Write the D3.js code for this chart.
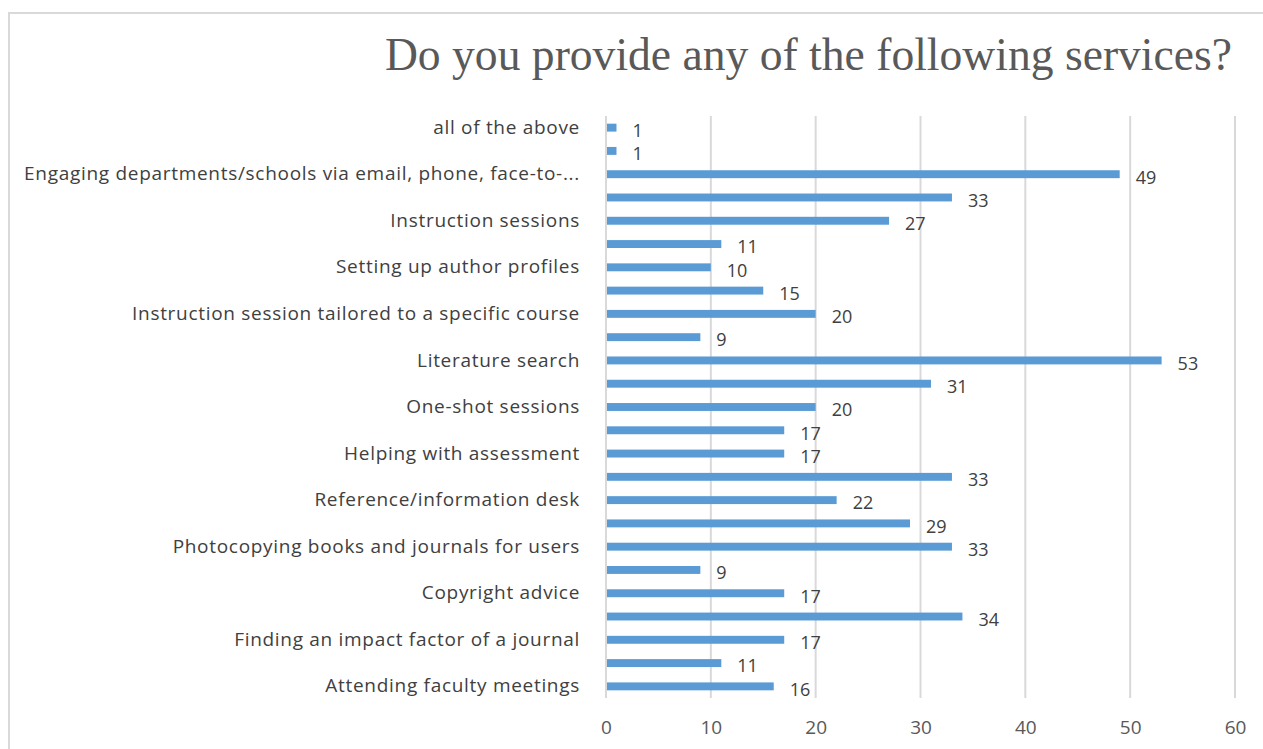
<!DOCTYPE html>
<html>
<head>
<meta charset="utf-8">
<script src="https://cdn.jsdelivr.net/npm/d3@7"></script>
<style>
  html, body { margin: 0; padding: 0; background: #ffffff; }
  svg { display: block; }
</style>
</head>
<body>
<svg id="chart" width="1263" height="749"></svg>
<script>
// Survey answers, top to bottom. Rows with an empty label are left unlabelled on the axis.
const categories = [
  "all of the above",
  "",
  "Engaging departments/schools via email, phone, face-to-...",
  "",
  "Instruction sessions",
  "",
  "Setting up author profiles",
  "",
  "Instruction session tailored to a specific course",
  "",
  "Literature search",
  "",
  "One-shot sessions",
  "",
  "Helping with assessment",
  "",
  "Reference/information desk",
  "",
  "Photocopying books and journals for users",
  "",
  "Copyright advice",
  "",
  "Finding an impact factor of a journal",
  "",
  "Attending faculty meetings"
];
const values = [1, 1, 49, 33, 27, 11, 10, 15, 20, 9, 53, 31, 20, 17, 17, 33, 22, 29, 33, 9, 17, 34, 17, 11, 16];
const xTicks = [0, 10, 20, 30, 40, 50, 60];
const title = "Do you provide any of the following services?";

const svg = d3.select("#chart");
const W = 1263, H = 749;
const plot = { left: 606, right: 1235, top: 116, bottom: 698 };
const labelFont = "'Open Sans', Lato, sans-serif";

// Outer frame (top and left edges visible)
svg.append("path")
  .attr("d", `M9,${H} L9,13 L${W},13`)
  .attr("fill", "none")
  .attr("stroke", "#d9d9d9")
  .attr("stroke-width", 2);

const x = d3.scaleLinear().domain([0, 60]).range([plot.left, plot.right]);
const y = d3.scaleBand()
  .domain(d3.range(values.length))
  .range([plot.top, plot.bottom])
  .paddingInner(0.66)
  .paddingOuter(0.33);

// Vertical gridlines
svg.append("g")
  .selectAll("line")
  .data(xTicks.filter(t => t > 0))
  .join("line")
  .attr("x1", d => x(d)).attr("x2", d => x(d))
  .attr("y1", plot.top).attr("y2", plot.bottom)
  .attr("stroke", "#d9d9d9")
  .attr("stroke-width", 2);

// Value axis labels
const xAxis = svg.append("g")
  .attr("transform", `translate(0,${plot.bottom})`)
  .call(d3.axisBottom(x).tickValues(xTicks).tickSize(0).tickPadding(23));
xAxis.select(".domain").remove();
xAxis.selectAll("text")
  .attr("font-family", labelFont)
  .attr("font-size", 19)
  .attr("fill", "#595959");

// Category axis
const yAxis = svg.append("g")
  .attr("transform", `translate(${plot.left},0)`)
  .call(d3.axisLeft(y).tickFormat(i => categories[i]).tickSize(0).tickPadding(26));
yAxis.select(".domain")
  .attr("d", `M0,${plot.top}V${plot.bottom}`)
  .attr("stroke", "#d9d9d9")
  .attr("stroke-width", 2);
yAxis.selectAll("text")
  .attr("font-family", labelFont)
  .attr("font-size", 19)
  .attr("letter-spacing", "0.7px")
  .attr("fill", "#404040");

// Bars
svg.append("g")
  .selectAll("rect")
  .data(values)
  .join("rect")
  .attr("x", x(0) + 1)
  .attr("y", (d, i) => y(i))
  .attr("width", d => x(d) - x(0) - 1)
  .attr("height", y.bandwidth())
  .attr("fill", "#5b9bd5");

// Value labels
svg.append("g")
  .selectAll("text")
  .data(values)
  .join("text")
  .attr("x", d => x(d) + 16)
  .attr("y", (d, i) => y(i) + y.bandwidth() / 2 + 3)
  .attr("dy", "0.35em")
  .attr("font-family", labelFont)
  .attr("font-size", 18)
  .attr("fill", "#404040")
  .text(d => d);

// Title
svg.append("text")
  .attr("x", 1232)
  .attr("y", 70)
  .attr("text-anchor", "end")
  .attr("font-family", "'Liberation Serif', 'DejaVu Serif', serif")
  .attr("font-size", 45.6)
  .attr("fill", "#595959")
  .text(title);
</script>
</body>
</html>
